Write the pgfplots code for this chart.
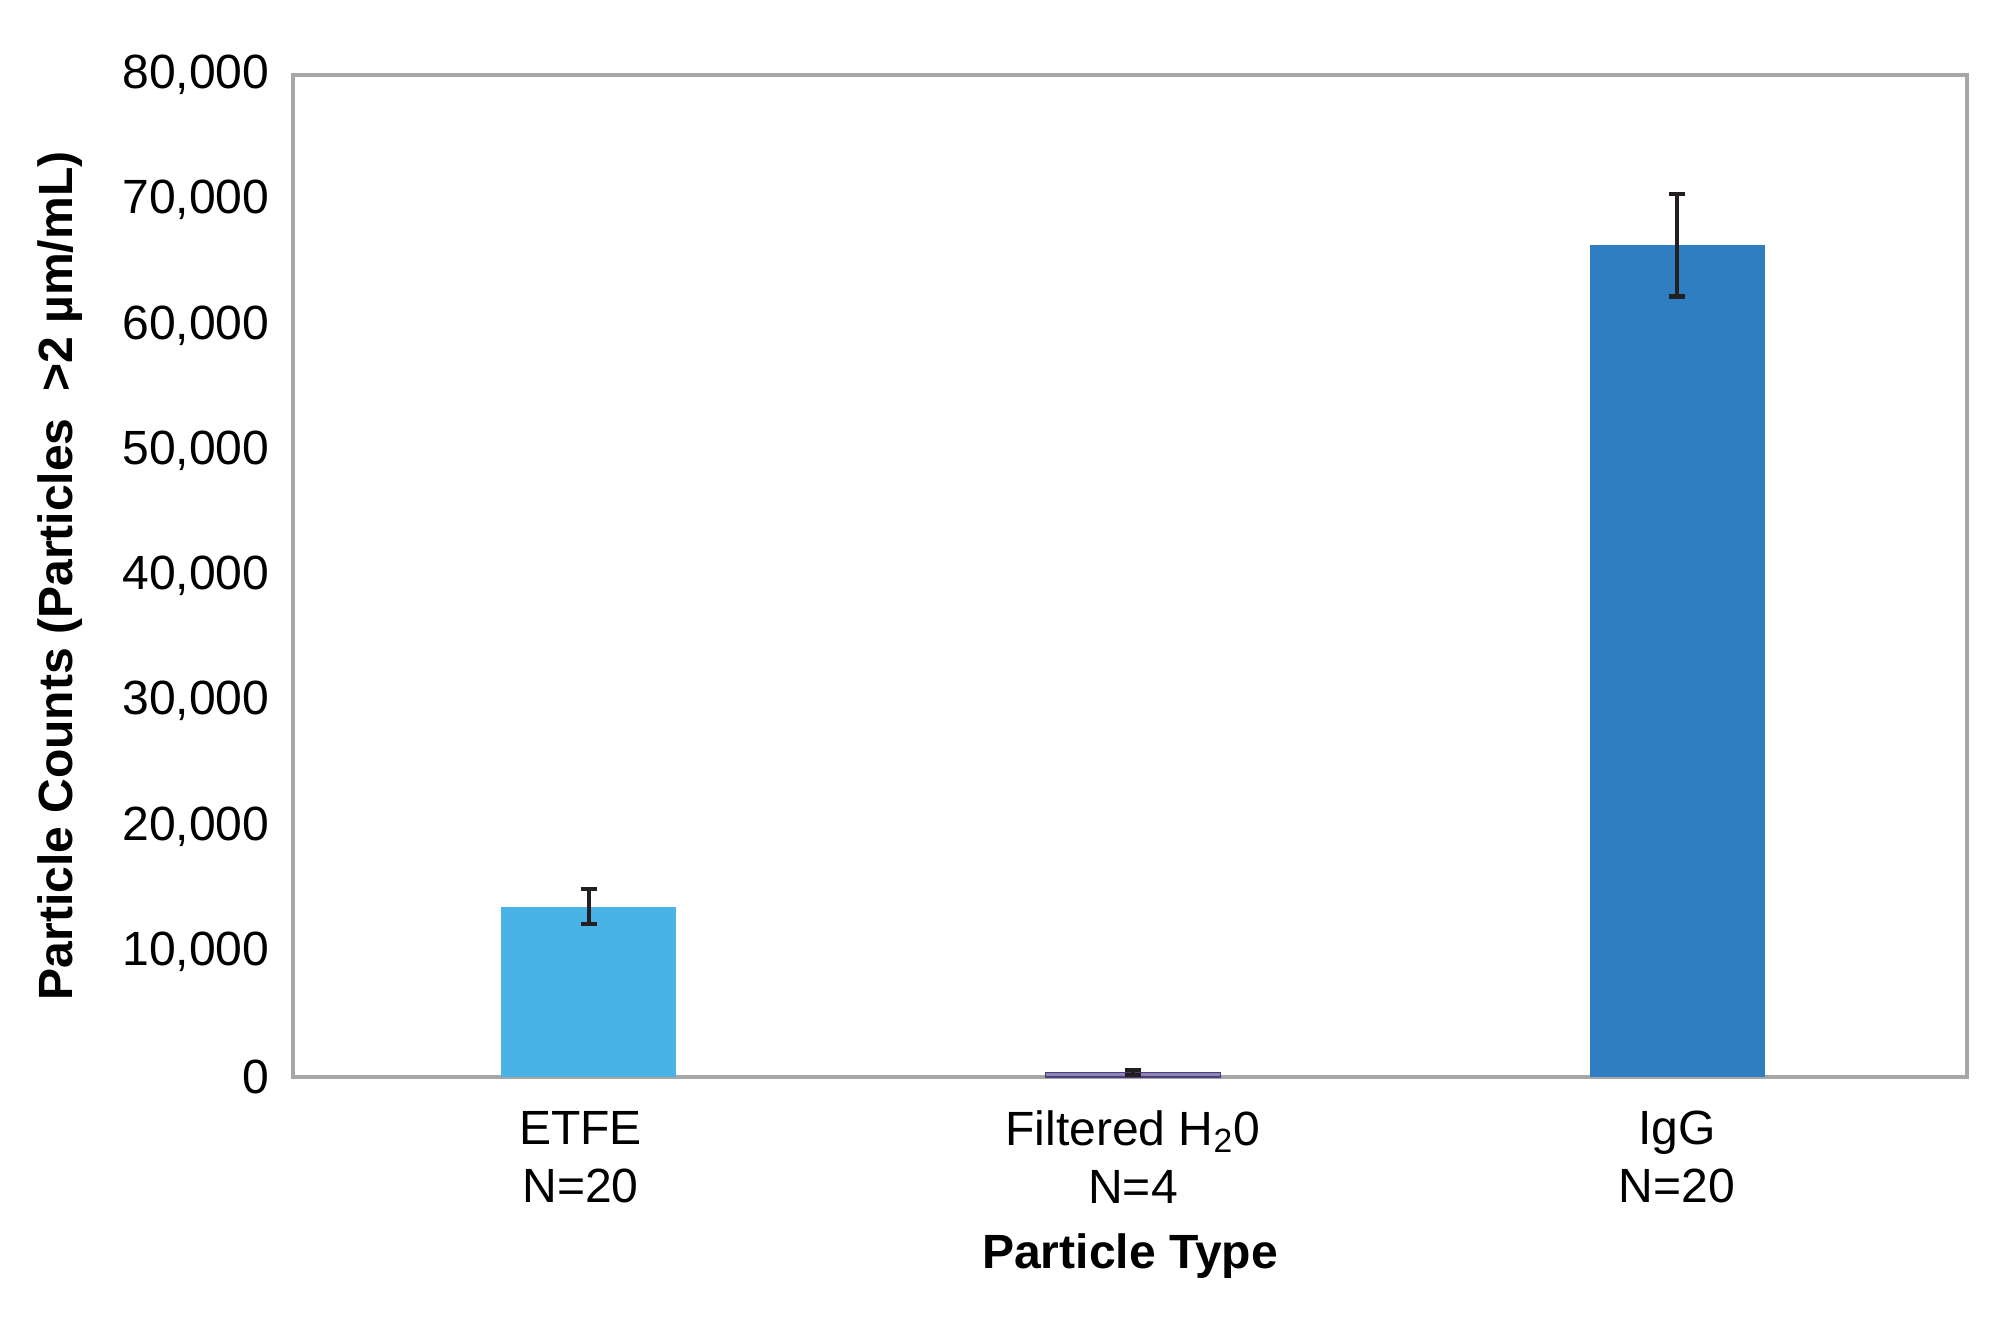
\documentclass[border=0pt]{standalone}
\usepackage{pgfplots}
\pgfplotsset{compat=1.18}
\usepackage{fontspec}
\setmainfont{Liberation Sans}

\definecolor{etfe}{HTML}{4AB3E6}
\definecolor{igg}{HTML}{2F7EC1}
\definecolor{h2ofill}{HTML}{8E84B5}
\definecolor{h2oedge}{HTML}{4B3F7A}
\definecolor{axisgray}{HTML}{A6A6A6}
\definecolor{errblack}{HTML}{231F20}

\newcommand{\chartfont}{\fontsize{17.3bp}{20.9bp}\selectfont}

\pgfplotsset{
  errstyle/.style={
    error bars/.cd, y dir=both, y explicit,
    error bar style={errblack, line width=1.6bp},
    error mark options={rotate=90, errblack, mark size=3bp, line width=1.6bp},
  },
}

\begin{document}
\begin{tikzpicture}
\useasboundingbox (-105.48bp,-92.16bp) rectangle (614.52bp,387.72bp);
\begin{axis}[
  at={(0,0)}, anchor=south west,
  scale only axis, width=602.64bp, height=360.72bp,
  xmin=-0.544, xmax=2.533, ymin=0, ymax=80000,
  ybar, bar width=63bp,
  xtick={0,1,2},
  xticklabels={{ETFE\hspace*{6bp}\\N=20\hspace*{6bp}},{Filtered H\textsubscript{2}0\\N=4},{IgG\\N=20}},
  ytick={0,10000,...,80000},
  scaled y ticks=false,
  /pgf/number format/.cd, fixed, 1000 sep={,}, assume math mode=true,
  /pgfplots/.cd,
  major tick length=0pt,
  tick style={draw=none},
  axis line style={axisgray, line width=1.1bp},
  every tick label/.append style={font=\chartfont},
  xticklabel style={align=center, anchor=center, yshift=-28.8bp},
  yticklabel style={anchor=east, inner sep=0pt, xshift=-8.3bp},
  label style={font=\chartfont\bfseries},
  xlabel={Particle Type},
  ylabel={Particle Counts (Particles~ >2 µm/mL)},
  xlabel style={at={(axis description cs:0.5,-0.1787)}, anchor=center},
  ylabel style={at={(axis description cs:-0.139,0.5)}, anchor=center},
]
\addplot[fill=etfe, draw=none, bar shift=0pt, errstyle]
  coordinates {(0,13600) +- (0,1400)};
\addplot[fill=h2ofill, draw=h2oedge, line width=0.6bp, bar shift=0pt, errstyle]
  coordinates {(1,350) +- (0,200)};
\addplot[fill=igg, draw=none, bar shift=0pt, errstyle]
  coordinates {(2,66400) +- (0,4100)};
\end{axis}
\end{tikzpicture}
\end{document}
